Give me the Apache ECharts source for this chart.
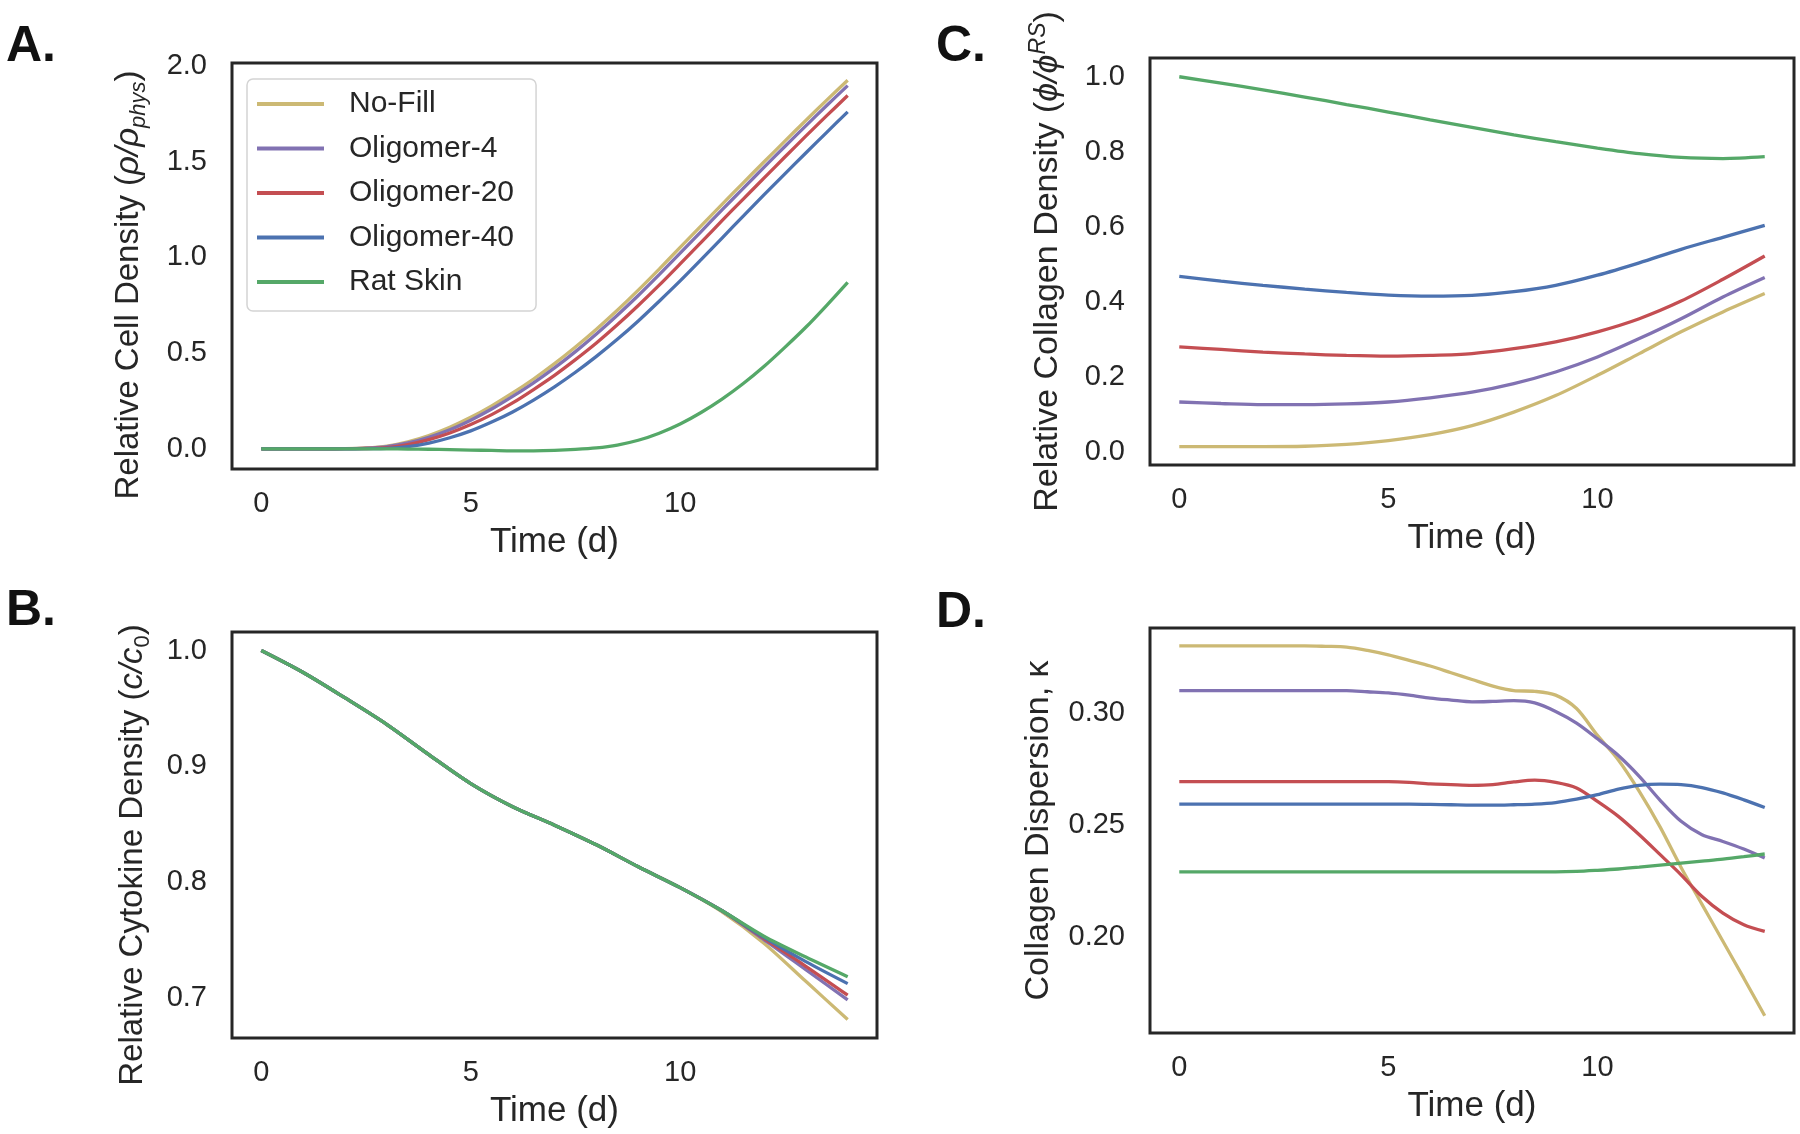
<!DOCTYPE html>
<html>
<head>
<meta charset="utf-8">
<script src="https://cdn.jsdelivr.net/npm/echarts@6/dist/echarts.min.js"></script>
<style>
  html, body { margin: 0; padding: 0; background: #fff; }
  #chart { width: 1800px; height: 1134px; }
</style>
</head>
<body>
<div id="chart"></div>
<script>
// sample times (days)
const daysFine = [0,0.5,1,1.5,2,2.5,3,3.5,4,4.5,5,5.5,6,6.5,7,7.5,8,8.5,9,9.5,10,10.5,11,11.5,12,12.5,13,13.5,14];
const daysDaily = [0,1,2,3,4,5,6,7,8,9,10,11,12,13,14];

const seriesNames = ['No-Fill', 'Oligomer-4', 'Oligomer-20', 'Oligomer-40', 'Rat Skin'];
const seriesColors = ['#ccb974', '#8172b2', '#c44e52', '#4c72b0', '#55a868'];

// A. relative cell density (daysFine)
const cellNoFill   = [0,0,0,0,0.001,0.005,0.015,0.037,0.07,0.113,0.165,0.225,0.292,0.365,0.445,0.532,0.625,0.724,0.829,0.939,1.052,1.165,1.277,1.388,1.498,1.607,1.715,1.821,1.925];
const cellOlig4    = [0,0,0,0,0.001,0.004,0.012,0.031,0.061,0.10,0.15,0.208,0.274,0.345,0.423,0.508,0.60,0.698,0.801,0.91,1.022,1.135,1.248,1.359,1.47,1.579,1.687,1.793,1.897];
const cellOlig20   = [0,0,0,0,0.001,0.002,0.007,0.022,0.048,0.083,0.127,0.179,0.24,0.31,0.384,0.466,0.553,0.648,0.749,0.855,0.966,1.078,1.192,1.303,1.414,1.524,1.633,1.74,1.845];
const cellOlig40   = [0,0,0,0,0,0.001,0.003,0.012,0.03,0.058,0.094,0.14,0.193,0.255,0.324,0.40,0.483,0.572,0.668,0.771,0.877,0.988,1.101,1.214,1.326,1.436,1.545,1.653,1.76];
const cellRatSkin  = [0,0,0,0,0,0,0,-0.001,-0.002,-0.004,-0.006,-0.008,-0.01,-0.01,-0.008,-0.003,0.005,0.02,0.045,0.082,0.13,0.19,0.26,0.34,0.43,0.53,0.635,0.75,0.87];

// B. relative cytokine density (daysDaily)
const cytoNoFill   = [1.0,0.981,0.959,0.936,0.910,0.885,0.865,0.849,0.832,0.813,0.795,0.774,0.747,0.714,0.681];
const cytoOlig4    = [1.0,0.981,0.959,0.936,0.910,0.885,0.865,0.849,0.832,0.813,0.795,0.775,0.750,0.724,0.698];
const cytoOlig20   = [1.0,0.981,0.959,0.936,0.910,0.885,0.865,0.849,0.832,0.813,0.795,0.775,0.751,0.727,0.702];
const cytoOlig40   = [1.0,0.981,0.959,0.936,0.910,0.885,0.865,0.849,0.832,0.813,0.795,0.775,0.752,0.731,0.712];
const cytoRatSkin  = [1.0,0.981,0.959,0.936,0.910,0.885,0.865,0.849,0.832,0.813,0.795,0.775,0.753,0.735,0.718];

// C. relative collagen density (daysDaily)
const collNoFill   = [0.014,0.014,0.014,0.015,0.02,0.03,0.046,0.07,0.106,0.15,0.204,0.262,0.32,0.373,0.422];
const collOlig4    = [0.133,0.129,0.126,0.126,0.128,0.133,0.144,0.159,0.182,0.213,0.253,0.302,0.355,0.413,0.465];
const collOlig20   = [0.28,0.273,0.266,0.261,0.257,0.255,0.257,0.262,0.275,0.293,0.32,0.355,0.402,0.46,0.522];
const collOlig40   = [0.468,0.455,0.444,0.434,0.425,0.418,0.415,0.417,0.427,0.444,0.471,0.504,0.540,0.572,0.604];
const collRatSkin  = [1.0,0.983,0.965,0.946,0.926,0.906,0.885,0.865,0.845,0.827,0.81,0.795,0.785,0.782,0.787];

// D. collagen dispersion (daysFine)
const dispNoFill   = [0.330,0.330,0.330,0.330,0.330,0.330,0.330,0.3298,0.3295,0.328,0.326,0.3235,0.321,0.318,0.315,0.312,0.310,0.3097,0.308,0.302,0.290,0.279,0.265,0.249,0.231,0.2145,0.198,0.1815,0.1647];
const dispOlig4    = [0.310,0.310,0.310,0.310,0.310,0.310,0.310,0.310,0.310,0.3095,0.309,0.308,0.3067,0.3058,0.305,0.3052,0.3055,0.3045,0.3007,0.2955,0.2885,0.281,0.2717,0.261,0.2516,0.2456,0.2426,0.2392,0.2352];
const dispOlig20   = [0.2693,0.2693,0.2693,0.2693,0.2693,0.2693,0.2693,0.2693,0.2693,0.2693,0.2693,0.269,0.2683,0.268,0.2677,0.268,0.2692,0.2700,0.2690,0.2665,0.2605,0.2538,0.2456,0.2367,0.2277,0.218,0.2106,0.2054,0.2024];
const dispOlig40   = [0.2593,0.2593,0.2593,0.2593,0.2593,0.2593,0.2593,0.2593,0.2593,0.2593,0.2593,0.2593,0.2592,0.259,0.2588,0.2588,0.259,0.2593,0.2600,0.2615,0.2635,0.2660,0.2677,0.2682,0.2680,0.2667,0.2643,0.2612,0.2578];
const dispRatSkin  = [0.229,0.229,0.229,0.229,0.229,0.229,0.229,0.229,0.229,0.229,0.229,0.229,0.229,0.229,0.229,0.229,0.229,0.229,0.229,0.2292,0.2297,0.2303,0.2311,0.232,0.2329,0.2338,0.2347,0.2358,0.237];

// tick labels
const timeTicks = [0, 5, 10];
const cellTicks = [0, 0.5, 1.0, 1.5, 2.0];
const cytoTicks = [0.7, 0.8, 0.9, 1.0];
const collTicks = [0, 0.2, 0.4, 0.6, 0.8, 1.0];
const dispTicks = [0.20, 0.25, 0.30];

const FONT = 'Liberation Sans';
const INK = '#262626';

let myChart = echarts.init(document.getElementById('chart'), null, { renderer: 'canvas' });

function pairs(days, vals) {
  return days.map((d, i) => [d, vals[i]]);
}

const panels = [
  { days: daysFine,  sets: [cellNoFill, cellOlig4, cellOlig20, cellOlig40, cellRatSkin] },
  { days: daysDaily, sets: [cytoNoFill, cytoOlig4, cytoOlig20, cytoOlig40, cytoRatSkin] },
  { days: daysDaily, sets: [collNoFill, collOlig4, collOlig20, collOlig40, collRatSkin] },
  { days: daysFine,  sets: [dispNoFill, dispOlig4, dispOlig20, dispOlig40, dispRatSkin] }
];

let series = [];
panels.forEach((p, k) => {
  p.sets.forEach((vals, i) => {
    series.push({
      name: seriesNames[i],
      type: 'line',
      xAxisIndex: k,
      yAxisIndex: k,
      data: pairs(p.days, vals),
      symbol: 'none',
      smooth: 0.3,
      color: seriesColors[i],
      lineStyle: { width: 3.3, color: seriesColors[i] },
      z: 2 + i
    });
  });
});

function xAxisFor(idx) {
  return {
    type: 'value',
    gridIndex: idx,
    min: -0.7,
    max: 14.7,
    name: 'Time (d)',
    nameLocation: 'middle',
    nameGap: 56,
    nameTextStyle: { fontFamily: FONT, fontSize: 35, color: INK },
    axisLine: { show: false },
    axisTick: { show: false },
    splitLine: { show: false },
    axisLabel: {
      customValues: timeTicks,
      margin: 20,
      fontFamily: FONT,
      fontSize: 29,
      color: INK
    }
  };
}

function richFor(size) {
  const sub = Math.round(size * 0.68);
  return {
    a: { fontFamily: FONT, fontSize: size, color: INK, lineHeight: 42, verticalAlign: 'middle' },
    i: { fontFamily: FONT, fontSize: size, color: INK, fontStyle: 'italic', lineHeight: 42, verticalAlign: 'middle' },
    sub: { fontFamily: FONT, fontSize: sub, color: INK, fontStyle: 'italic', lineHeight: 42, verticalAlign: 'bottom' },
    subn: { fontFamily: FONT, fontSize: sub, color: INK, lineHeight: 42, verticalAlign: 'bottom' },
    sup: { fontFamily: FONT, fontSize: sub, color: INK, fontStyle: 'italic', lineHeight: 42, verticalAlign: 'top' }
  };
}

// shift moves the rotated title downward on screen (px)
function yAxisFor(idx, min, max, ticks, digits, name, gap, shift, size) {
  return {
    type: 'value',
    gridIndex: idx,
    min: min,
    max: max,
    name: name,
    nameLocation: 'middle',
    nameGap: gap,
    nameRotate: 90,
    nameTextStyle: {
      fontFamily: FONT, fontSize: size, color: INK,
      padding: [0, shift * 2, 0, 0],
      rich: richFor(size)
    },
    axisLine: { show: false },
    axisTick: { show: false },
    splitLine: { show: false },
    axisLabel: {
      customValues: ticks,
      margin: 25,
      fontFamily: FONT,
      fontSize: 29,
      color: INK,
      formatter: v => v.toFixed(digits)
    }
  };
}

const gridBox = { show: true, borderColor: INK, borderWidth: 3, backgroundColor: 'transparent' };

let option = {
  backgroundColor: '#ffffff',
  animation: false,
  grid: [
    Object.assign({ left: 232, top: 63, width: 645, height: 406 }, gridBox),
    Object.assign({ left: 232, top: 632, width: 645, height: 406 }, gridBox),
    Object.assign({ left: 1150, top: 58, width: 644, height: 407 }, gridBox),
    Object.assign({ left: 1150, top: 628, width: 644, height: 405 }, gridBox)
  ],
  legend: {
    show: true,
    orient: 'vertical',
    left: 247,
    top: 79,
    data: seriesNames,
    icon: 'rect',
    itemWidth: 67,
    itemHeight: 4,
    itemGap: 14.5,
    padding: [10, 22, 14, 10],
    backgroundColor: 'rgba(255,255,255,0.85)',
    borderColor: '#d4d4d4',
    borderWidth: 1.5,
    borderRadius: 6,
    textStyle: { fontFamily: FONT, fontSize: 30, lineHeight: 30, color: INK, padding: [0, 0, 0, 20] }
  },
  xAxis: [xAxisFor(0), xAxisFor(1), xAxisFor(2), xAxisFor(3)],
  yAxis: [
    yAxisFor(0, -0.105, 2.015, cellTicks, 1, '{a|Relative Cell Density (}{i|ρ/ρ}{sub|phys}{a|)}', 82, 19, 33),
    yAxisFor(1, 0.665, 1.016, cytoTicks, 1, '{a|Relative Cytokine Density (}{i|c/c}{subn|0}{a|)}', 78, 20, 33),
    yAxisFor(2, -0.035, 1.05, collTicks, 1, '{a|Relative Collagen Density (}{i|ϕ/ϕ}{sup|RS}{a|)}', 81, 0, 34),
    yAxisFor(3, 0.157, 0.338, dispTicks, 2, 'Collagen Dispersion, κ', 94, 0, 34)
  ],
  graphic: [
    { type: 'text', left: 6, top: 22, style: { text: 'A.', fontFamily: FONT, fontWeight: 'bold', fontSize: 50, fill: '#111' } },
    { type: 'text', left: 936, top: 22, style: { text: 'C.', fontFamily: FONT, fontWeight: 'bold', fontSize: 50, fill: '#111' } },
    { type: 'text', left: 6, top: 586, style: { text: 'B.', fontFamily: FONT, fontWeight: 'bold', fontSize: 50, fill: '#111' } },
    { type: 'text', left: 936, top: 588, style: { text: 'D.', fontFamily: FONT, fontWeight: 'bold', fontSize: 50, fill: '#111' } }
  ],
  series: series
};
myChart.setOption(option);
</script>
</body>
</html>
